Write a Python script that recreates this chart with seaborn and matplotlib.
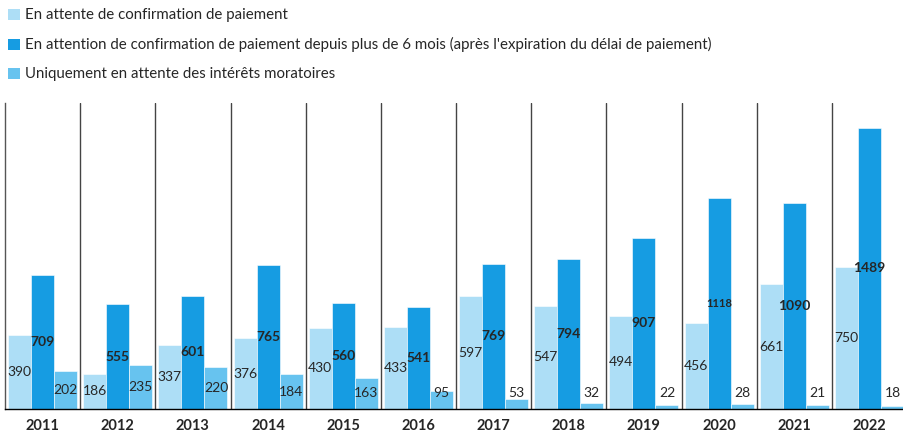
import numpy as np
import pandas as pd
import matplotlib
matplotlib.use("Agg")
import matplotlib.pyplot as plt
from matplotlib.patches import Patch
import seaborn as sns

# ---- data ----
annees = ["2011", "2012", "2013", "2014", "2015", "2016",
          "2017", "2018", "2019", "2020", "2021", "2022"]
attente = [390, 186, 337, 376, 430, 433, 597, 547, 494, 456, 661, 750]
attente_6mois = [709, 555, 601, 765, 560, 541, 769, 794, 907, 1118, 1090, 1489]
interets = [202, 235, 220, 184, 163, 95, 53, 32, 22, 28, 21, 18]

series = ["En attente de confirmation de paiement",
          "En attention de confirmation de paiement depuis plus de 6 mois (après l'expiration du délai de paiement)",
          "Uniquement en attente des intérêts moratoires"]
couleurs = ["#ADDEF6", "#169CE2", "#67C3EF"]

df = pd.DataFrame({
    "annee": annees * 3,
    "valeur": attente + attente_6mois + interets,
    "serie": [series[0]] * 12 + [series[1]] * 12 + [series[2]] * 12,
})

sns.set_style("white")
plt.rcParams["font.family"] = ["Lato", "DejaVu Sans"]

fig = plt.figure(figsize=(9.04, 4.36), dpi=100)
ax = fig.add_axes([5 / 904, 27 / 436, 899 / 904, 306 / 436])

sns.barplot(data=df, x="annee", y="valeur", hue="serie", hue_order=series,
            palette=couleurs, width=0.92, gap=0, saturation=1,
            edgecolor="white", linewidth=0.4, legend=False, ax=ax)

ax.set_ylim(0, 1621)
ax.set_xlim(-0.5, 11.46)
ax.set_xlabel("")
ax.set_ylabel("")
ax.set_yticks([])
ax.tick_params(axis="x", length=0, pad=7)
for t in ax.get_xticklabels():
    t.set_fontweight("bold")
    t.set_fontsize(10.5)

for s in ["top", "right"]:
    ax.spines[s].set_visible(False)
ax.spines["left"].set_color("#555555")
ax.spines["bottom"].set_color("black")
ax.spines["left"].set_linewidth(1)
ax.spines["bottom"].set_linewidth(1)

for i in range(11):
    ax.axvline(i + 0.5, color="#444444", lw=1, zorder=0)

# value labels
for k, cont in enumerate(ax.containers):
    for bar, v in zip(cont, [attente, attente_6mois, interets][k]):
        x = bar.get_x() + bar.get_width() / 2
        y = max(v / 2, 85)
        if k == 1:
            ax.text(x, y, str(v), ha="center", va="center",
                    fontsize=8 if v == 1118 else 10, fontweight="bold")
        else:
            ax.text(x, y, str(v), ha="center", va="center", fontsize=10)

handles = [Patch(facecolor=c, edgecolor="none") for c in couleurs]
fig.legend(handles, series, loc="upper left", bbox_to_anchor=(0.0, 1.0),
           frameon=False, fontsize=10.8, handlelength=0.75, handleheight=0.75,
           handletextpad=0.35, labelspacing=1.0, borderaxespad=0.15)

fig.savefig("out.png", dpi=100)
